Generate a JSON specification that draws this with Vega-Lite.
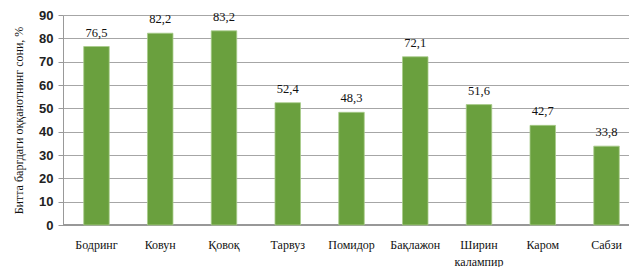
{
  "$schema": "https://vega.github.io/schema/vega-lite/v6.json",
  "autosize": "none",
  "width": 566,
  "height": 210,
  "padding": {"left": 63, "top": 15, "right": 0, "bottom": 42},
  "background": "white",
  "config": {
    "view": {"stroke": null},
    "locale": {"number": {"decimal": ",", "thousands": " ", "grouping": [3], "currency": ["", ""]}}
  },
  "data": {
    "values": [
      {"crop": "Бодринг", "value": 76.5},
      {"crop": "Ковун", "value": 82.2},
      {"crop": "Қовоқ", "value": 83.2},
      {"crop": "Тарвуз", "value": 52.4},
      {"crop": "Помидор", "value": 48.3},
      {"crop": "Бақлажон", "value": 72.1},
      {"crop": "Ширин калампир", "value": 51.6},
      {"crop": "Каром", "value": 42.7},
      {"crop": "Сабзи", "value": 33.8}
    ]
  },
  "encoding": {
    "x": {
      "field": "crop",
      "type": "nominal",
      "sort": null,
      "scale": {"paddingInner": 0.6, "paddingOuter": 0.325, "range": [0, 577]},
      "axis": {
        "title": null,
        "labelAngle": 0,
        "ticks": false,
        "domain": false,
        "labelFont": "Liberation Serif",
        "labelFontSize": 12,
        "labelColor": "#111",
        "labelPadding": 14,
        "labelExpr": "datum.value == 'Ширин калампир' ? ['Ширин', 'калампир'] : datum.value",
        "labelLineHeight": 17
      }
    },
    "y": {
      "field": "value",
      "type": "quantitative",
      "scale": {"domain": [0, 90]},
      "axis": {
        "values": [0, 10, 20, 30, 40, 50, 60, 70, 80, 90],
        "title": "Битта баргдаги оққанотнинг сони, %",
        "titleFont": "Liberation Serif",
        "titleFontSize": 12,
        "titleFontWeight": "normal",
        "titleColor": "#111",
        "titlePadding": 13,
        "labelFont": "Liberation Sans",
        "labelFontWeight": "bold",
        "labelFontSize": 13,
        "labelColor": "#222",
        "labelPadding": 5,
        "tickSize": 5,
        "tickColor": "#999",
        "domainColor": "#999",
        "gridColor": "#a6a6a6",
        "gridWidth": 1
      }
    }
  },
  "layer": [
    {"mark": {"type": "rule", "color": "#999", "strokeWidth": 1.5}, "encoding": {"y": {"datum": 0}, "x": null}},
    {"mark": {"type": "bar", "color": "#6aa03e", "stroke": "#a8cc8a", "strokeWidth": 0.8}},
    {
      "mark": {"type": "text", "baseline": "bottom", "dy": -7, "font": "Liberation Serif", "fontSize": 12.5, "color": "#111"},
      "encoding": {"text": {"field": "value", "type": "quantitative", "format": ".1f"}}
    }
  ]
}
